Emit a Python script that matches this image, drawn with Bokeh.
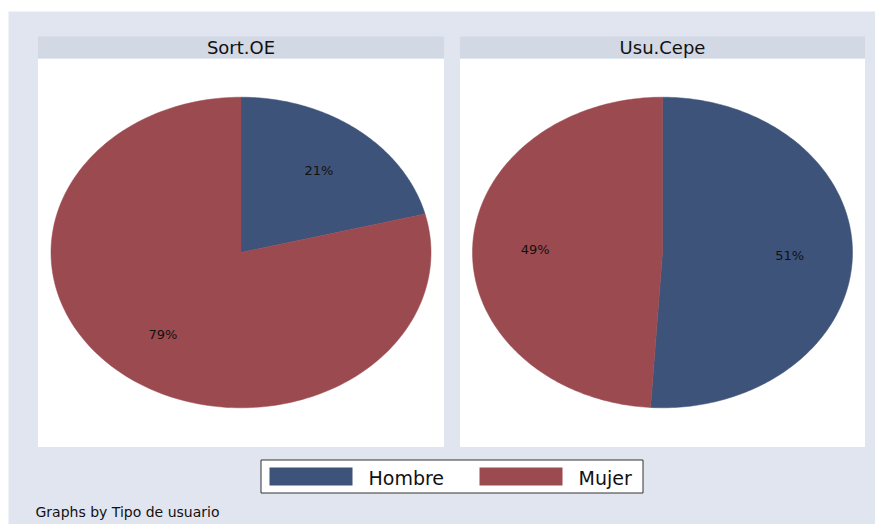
import numpy as np
from bokeh.plotting import figure
from bokeh.models import Range1d
from bokeh.core.properties import value
from bokeh.embed import file_html
from bokeh.resources import INLINE

# ---- data ----
panels = ["Sort.OE", "Usu.Cepe"]
categories = ["Hombre", "Mujer"]
sort_oe = [21, 79]
usu_cepe = [51, 49]
colors = ["#3e5379", "#9b4a50"]
note = "Graphs by Tipo de usuario"
series = [sort_oe, usu_cepe]

FONT = value("DejaVu Sans")
W, H = 875, 524
X0, Y0 = 0, 0

p = figure(width=W, height=H, output_backend="svg", toolbar_location=None,
           x_range=Range1d(X0, X0 + W), y_range=Range1d(Y0 + H, Y0),
           min_border=0, border_fill_color="white", background_fill_color="white")
p.axis.visible = False
p.grid.visible = False
p.outline_line_color = None

# outer background
p.quad(left=8, right=X0 + W, top=11, bottom=Y0 + H, fill_color="#e1e5f0", line_color=None)

# panel layout (pixels)
panel_left = [37.5, 459.5]
panel_right = [443.5, 864.5]
head_top, head_bot, panel_bot = 36, 58, 446.5
rx, ry = 190.0, 155.3
cy = 252.0

for k in range(2):
    pl, pr = panel_left[k], panel_right[k]
    p.quad(left=pl, right=pr, top=head_bot, bottom=panel_bot, fill_color="white", line_color=None)
    p.quad(left=pl, right=pr, top=head_top, bottom=head_bot, fill_color="#d2d8e4", line_color=None)
    p.text(x=[(pl + pr) / 2], y=[47], text=[panels[k]], text_font=FONT, text_font_size="18px",
           text_align="center", text_baseline="middle", text_color="#111111")

    # pie: unit circle mapped onto ellipse via per-panel ranges
    cx = (pl + pr) / 2
    xr = f"px{k}"
    yr = f"py{k}"
    p.extra_x_ranges[xr] = Range1d(-(cx - X0) / rx, (X0 + W - cx) / rx)
    p.extra_y_ranges[yr] = Range1d(-(Y0 + H - cy) / ry, (cy - Y0) / ry)

    vals = np.array(series[k], dtype=float)
    frac = vals / vals.sum()
    ends = 90 - 360 * np.cumsum(frac)
    starts = np.concatenate([[90.0], ends[:-1]])
    xs, ys, lx, ly, lt = [], [], [], [], []
    for s, e, f in zip(starts, ends, frac):
        t = np.radians(np.linspace(s, e, 200))
        xs.append(np.concatenate([[0.0], np.cos(t), [0.0]]))
        ys.append(np.concatenate([[0.0], np.sin(t), [0.0]]))
        m = np.radians((s + e) / 2)
        lx.append(0.67 * np.cos(m))
        ly.append(0.67 * np.sin(m))
        lt.append(f"{f * 100:.0f}%")
    p.patches(xs=xs, ys=ys, fill_color=colors, line_color=colors, line_width=0.5,
              x_range_name=xr, y_range_name=yr)
    p.text(x=lx, y=ly, text=lt, text_font=FONT, text_font_size="13px", text_align="center",
           text_baseline="middle", text_color="#111111", x_range_name=xr, y_range_name=yr)

# legend (manual, Stata style)
p.quad(left=260.5, right=642.5, top=459.5, bottom=492.5, fill_color="white",
       line_color="#333333", line_width=1)
sw_left = [269, 479]
lab_left = [368, 578]
for i, c in enumerate(categories):
    p.quad(left=sw_left[i], right=sw_left[i] + 83, top=467, bottom=485,
           fill_color=colors[i], line_color=None)
    p.text(x=[lab_left[i]], y=[477], text=[c], text_font=FONT, text_font_size="19px",
           text_align="left", text_baseline="middle", text_color="#111111")

p.text(x=[35], y=[511], text=[note], text_font=FONT, text_font_size="14px",
       text_align="left", text_baseline="middle", text_color="#111111")

open("out.html", "w").write(file_html(p, INLINE))
